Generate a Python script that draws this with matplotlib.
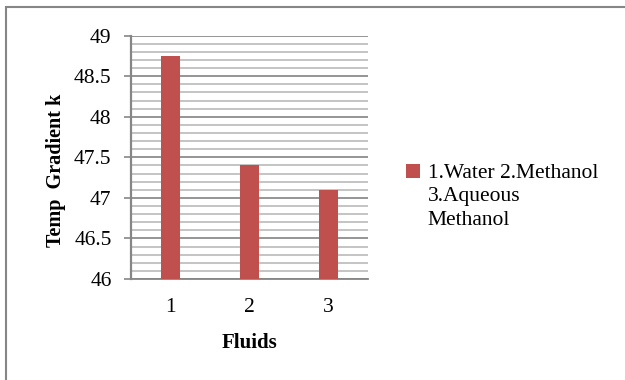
import matplotlib
matplotlib.use("Agg")
import matplotlib.pyplot as plt
from matplotlib.ticker import MultipleLocator
from matplotlib.patches import Rectangle

categories = ["1", "2", "3"]
values = [48.75, 47.4, 47.1]
yticks = [46, 46.5, 47, 47.5, 48, 48.5, 49]
ytick_labels = ["46", "46.5", "47", "47.5", "48", "48.5", "49"]
legend_label = "1.Water 2.Methanol\n3.Aqueous\nMethanol"
xlabel = "Fluids"
ylabel = "Temp  Gradient k"

plt.rcParams['font.family'] = ['Liberation Serif', 'DejaVu Serif']

fig = plt.figure(figsize=(6.25, 3.8), dpi=100)
# outer chart border
fig.patches.append(Rectangle((6/625, -0.1), 1.1, (1 - 7/380) + 0.1, transform=fig.transFigure,
                             fill=False, edgecolor='#868686', linewidth=1.5, zorder=0))

ax = fig.add_axes([131/625, 1 - 279/380, (368 - 131)/625, (279 - 35.7)/380])
x = list(range(1, len(categories) + 1))
bars = ax.bar(x, values, width=0.245, color='#C0504D', zorder=3, label=legend_label)

ax.set_xlim(0.5, 3.5)
ax.set_ylim(46, 49)
ax.set_xticks(x)
ax.set_xticklabels(categories)
ax.set_yticks(yticks)
ax.set_yticklabels(ytick_labels)
ax.yaxis.set_minor_locator(MultipleLocator(0.1))

ax.grid(which='major', axis='y', color='#8c8c8c', linewidth=1.3, zorder=0)
ax.grid(which='minor', axis='y', color='#b4b4b4', linewidth=1.1, zorder=0)

for s in ['top', 'right']:
    ax.spines[s].set_visible(False)
ax.spines['left'].set_color('#868686')
ax.spines['left'].set_linewidth(1.6)
ax.spines['bottom'].set_color('#868686')
ax.spines['bottom'].set_linewidth(1.3)

ax.tick_params(axis='y', which='major', length=5, width=1.2, color='#868686',
               labelsize=15.5, pad=9)
ax.tick_params(axis='y', which='minor', length=0)
ax.tick_params(axis='x', length=0, labelsize=15.5, pad=14)

ax.set_xlabel(xlabel, fontsize=15, fontweight='bold', labelpad=11)
ax.set_ylabel(ylabel, fontsize=14.5, fontweight='bold')
ax.yaxis.set_label_coords(-(131 - 66)/237, (279 - 170)/243.3, transform=ax.transAxes)

leg = fig.legend(handles=[bars], labels=[legend_label], loc='upper left',
                 bbox_to_anchor=(406/625, 1 - 164/380), frameon=False,
                 fontsize=15.5, handlelength=0.65, handleheight=0.65,
                 handletextpad=0.35, borderaxespad=0, borderpad=0)
for t in leg.get_texts():
    t.set_linespacing(1.32)
# align the colour square with the first line of the label
for col in leg._legend_handle_box.get_children():
    for item in col.get_children():
        item.align = 'top'

fig.savefig("out.png", dpi=100, facecolor='white')
